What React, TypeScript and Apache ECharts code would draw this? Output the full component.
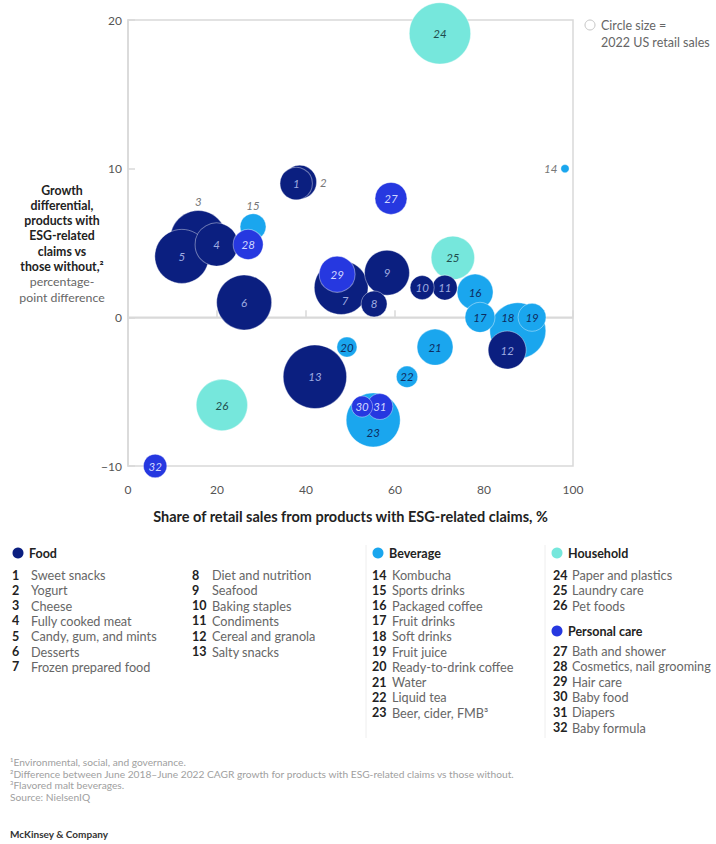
import React, { useEffect, useRef } from "react";
import * as echarts from "echarts";

const FONT = "Lato, 'Noto Sans', sans-serif";

const categories = ["Food", "Beverage", "Household", "Personal care"];
const categoryColors = ["#0b1f80", "#1aa6ee", "#76e7dc", "#2638e0"];
const labelColors = ["#9eabe0", "#0e2c5e", "#1f4d4d", "#d0d7ff"];

const ids = [1, 2, 3, 4, 5, 6, 7, 8, 9, 10, 11, 12, 13, 14, 15, 16, 17, 18, 19, 20, 21, 22, 23, 24, 25, 26, 27, 28, 29, 30, 31, 32];
const names = [
  "Sweet snacks", "Yogurt", "Cheese", "Fully cooked meat", "Candy, gum, and mints", "Desserts", "Frozen prepared food",
  "Diet and nutrition", "Seafood", "Baking staples", "Condiments", "Cereal and granola", "Salty snacks",
  "Kombucha", "Sports drinks", "Packaged coffee", "Fruit drinks", "Soft drinks", "Fruit juice", "Ready-to-drink coffee",
  "Water", "Liquid tea", "Beer, cider, FMB³",
  "Paper and plastics", "Laundry care", "Pet foods",
  "Bath and shower", "Cosmetics, nail grooming", "Hair care", "Baby food", "Diapers", "Baby formula",
];
const categoryIndex = [0, 0, 0, 0, 0, 0, 0, 0, 0, 0, 0, 0, 0, 1, 1, 1, 1, 1, 1, 1, 1, 1, 1, 2, 2, 2, 3, 3, 3, 3, 3, 3];
// Share of retail sales from products with ESG-related claims, %
const shareESG = [37.8, 38.6, 15.8, 19.9, 12.1, 26.1, 47.9, 55.3, 58.2, 66.1, 71.2, 85.2, 42.0, 98.2, 28.1, 78.0, 79.1, 87.6, 90.8, 49.2, 69.0, 62.7, 55.1, 70.1, 73.0, 21.1, 59.1, 27.0, 47.0, 52.6, 56.6, 6.1];
// Growth differential, percentage points
const growthDiff = [9.0, 9.1, 5.3, 4.9, 4.1, 1.0, 2.0, 0.9, 3.0, 2.0, 2.0, -2.2, -4.0, 10.0, 6.1, 1.7, 0.0, -0.9, 0.0, -2.0, -2.0, -4.0, -6.9, 19.1, 4.0, -5.9, 8.0, 4.9, 2.9, -6.0, -6.0, -10.0];
// 2022 US retail sales (relative, $ billions est.)
const retailSales = [7.8, 8.4, 23.3, 13.7, 21.7, 22.5, 21.5, 5.0, 15.0, 4.3, 4.6, 10.7, 29.9, 0.5, 5.0, 9.6, 6.7, 23.3, 5.8, 3.0, 9.6, 3.4, 21.7, 28.0, 14.0, 19.6, 7.6, 6.7, 9.6, 3.3, 5.0, 4.1];

const xTicks = [0, 20, 40, 60, 80, 100];
const yTicks = [-10, 0, 10, 20];

const xTitle = "Share of retail sales from products with ESG-related claims, %";
const yTitleBold = ["Growth", "differential,", "products with", "ESG-related", "claims vs", "those without,²"];
const yTitleRegular = ["percentage-", "point difference"];
const sizeNote = ["Circle size =", "2022 US retail sales"];
const footnotes = [
  "¹Environmental, social, and governance.",
  "²Difference between June 2018–June 2022 CAGR growth for products with ESG-related claims vs those without.",
  "³Flavored malt beverages.",
  "Source: NielsenIQ",
];
const brand = "McKinsey & Company";

// label placement tweaks (style, not data)
const labelTweaks: Record<number, any> = {
  2: { position: "right", distance: 3, color: "#777" },
  3: { position: "top", distance: 3, color: "#777" },
  14: { position: "left", distance: 3, color: "#777" },
  15: { position: "top", distance: 2, color: "#777" },
  7: { offset: [4, 13] },
  18: { offset: [-10, -13] },
  23: { offset: [0, 13] },
};

const drawOrder = [1, 2, 0, 3];
const K = 5.8;

function buildOption() {
  const series: any[] = [];
  series.push({
    type: "line",
    data: [[xTicks[0], 0], [xTicks[xTicks.length - 1], 0]],
    symbol: "none",
    silent: true,
    z: 1,
    lineStyle: { color: "#d9d9d9", width: 1.5 },
  });
  drawOrder.forEach((c) => {
    const idx = ids.map((_, i) => i).filter((i) => categoryIndex[i] === c);
    idx.sort((a, b) => retailSales[b] - retailSales[a]);
    series.push({
      type: "scatter",
      name: categories[c],
      clip: false,
      z: 2,
      symbolSize: (v: number[]) => 2 * K * Math.sqrt(v[2]),
      itemStyle: { color: categoryColors[c], borderColor: "rgba(255,255,255,0.4)", borderWidth: 1, opacity: 1 },
      emphasis: { disabled: true },
      label: {
        show: true,
        position: "inside",
        formatter: (p: any) => String(p.value[3]),
        color: labelColors[c],
        fontStyle: "italic",
        fontSize: 11.5,
        fontFamily: FONT,
      },
      data: idx.map((i) => {
        const item: any = { value: [shareESG[i], growthDiff[i], retailSales[i], ids[i]] };
        if (labelTweaks[ids[i]]) item.label = labelTweaks[ids[i]];
        return item;
      }),
    });
  });

  const g: any[] = [];
  // y-axis title
  yTitleBold.forEach((t, i) => {
    g.push({ type: "text", x: 62, y: 190 + i * 15.3, style: { text: t, fill: "#222", font: `bold 12.3px ${FONT}`, textAlign: "center", textVerticalAlign: "middle" } });
  });
  yTitleRegular.forEach((t, i) => {
    g.push({ type: "text", x: 62, y: 190 + (yTitleBold.length + i) * 15.3, style: { text: t, fill: "#666", font: `12.3px ${FONT}`, textAlign: "center", textVerticalAlign: "middle" } });
  });
  // circle size note
  g.push({ type: "circle", shape: { cx: 590, cy: 25, r: 5 }, style: { fill: "#fff", stroke: "#c4c4c4", lineWidth: 1 } });
  sizeNote.forEach((t, i) => {
    g.push({ type: "text", x: 601, y: 25 + i * 17, style: { text: t, fill: "#666", font: `12.5px ${FONT}`, textVerticalAlign: "middle" } });
  });

  // legend
  const headers = [
    { c: 0, x: 18, y: 553 },
    { c: 1, x: 378, y: 553 },
    { c: 2, x: 557, y: 553 },
    { c: 3, x: 557, y: 631 },
  ];
  headers.forEach((h) => {
    g.push({ type: "circle", shape: { cx: h.x, cy: h.y, r: 5.5 }, style: { fill: categoryColors[h.c] } });
    g.push({ type: "text", x: h.x + 11, y: h.y, style: { text: categories[h.c], fill: "#222", font: `bold 12.5px ${FONT}`, textVerticalAlign: "middle" } });
  });
  const columns = [
    { from: 1, to: 7, numX: 12, nameX: 31, y0: 575 },
    { from: 8, to: 13, numX: 192, nameX: 212, y0: 575 },
    { from: 14, to: 23, numX: 372, nameX: 392, y0: 575 },
    { from: 24, to: 26, numX: 553, nameX: 572, y0: 575 },
    { from: 27, to: 32, numX: 553, nameX: 572, y0: 651 },
  ];
  columns.forEach((col) => {
    for (let id = col.from; id <= col.to; id++) {
      const i = ids.indexOf(id);
      const y = col.y0 + (id - col.from) * 15.3;
      g.push({ type: "text", x: col.numX, y, style: { text: String(id), fill: "#222", font: `bold 12.5px ${FONT}`, textVerticalAlign: "middle" } });
      g.push({ type: "text", x: col.nameX, y, style: { text: names[i], fill: "#666", font: `12.7px ${FONT}`, textVerticalAlign: "middle" } });
    }
  });
  g.push({ type: "line", shape: { x1: 366, y1: 545, x2: 366, y2: 738 }, style: { stroke: "#eeeeee", lineWidth: 1 } });
  g.push({ type: "line", shape: { x1: 545, y1: 545, x2: 545, y2: 738 }, style: { stroke: "#eeeeee", lineWidth: 1 } });

  footnotes.forEach((t, i) => {
    g.push({ type: "text", x: 10, y: 762 + i * 11.5, style: { text: t, fill: "#a0a0a0", font: `10.2px ${FONT}`, textVerticalAlign: "middle" } });
  });
  g.push({ type: "text", x: 10, y: 834, style: { text: brand, fill: "#333", font: `bold 10px ${FONT}`, textVerticalAlign: "middle" } });

  const axisColor = "#d9d9d9";
  return {
    animation: false,
    textStyle: { fontFamily: FONT },
    grid: { left: 128, right: 143, top: 20, bottom: 378, show: true, borderColor: axisColor, borderWidth: 1.5, backgroundColor: "transparent" },
    xAxis: {
      type: "value",
      min: xTicks[0],
      max: xTicks[xTicks.length - 1],
      interval: 20,
      axisLine: { show: true, lineStyle: { color: axisColor, width: 1.5 } },
      axisTick: { show: true, inside: true, length: 7, lineStyle: { color: axisColor, width: 1.5 } },
      splitLine: { show: false },
      axisLabel: { color: "#555", fontSize: 12, margin: 17, fontFamily: FONT },
      name: xTitle,
      nameLocation: "middle",
      nameGap: 43,
      nameTextStyle: { color: "#222", fontWeight: "bold", fontSize: 14.5, fontFamily: FONT },
    },
    yAxis: {
      type: "value",
      min: yTicks[0],
      max: yTicks[yTicks.length - 1],
      interval: 10,
      axisLine: { show: true, lineStyle: { color: axisColor, width: 1.5 } },
      axisTick: { show: true, inside: true, length: 7, lineStyle: { color: axisColor, width: 1.5 } },
      splitLine: { show: false },
      axisLabel: { color: "#555", fontSize: 12, margin: 6, fontFamily: FONT, formatter: (v: number) => String(v).replace("-", "−") },
    },
    graphic: g,
    series,
  };
}

export default function App() {
  const ref = useRef<HTMLDivElement>(null);
  useEffect(() => {
    if (!ref.current) return;
    const chart = echarts.init(ref.current, undefined, { renderer: "svg" });
    chart.setOption(buildOption() as any);
    return () => chart.dispose();
  }, []);
  return <div ref={ref} style={{ position: "fixed", left: 0, top: 0, width: 716, height: 844, background: "#fff" }} />;
}
